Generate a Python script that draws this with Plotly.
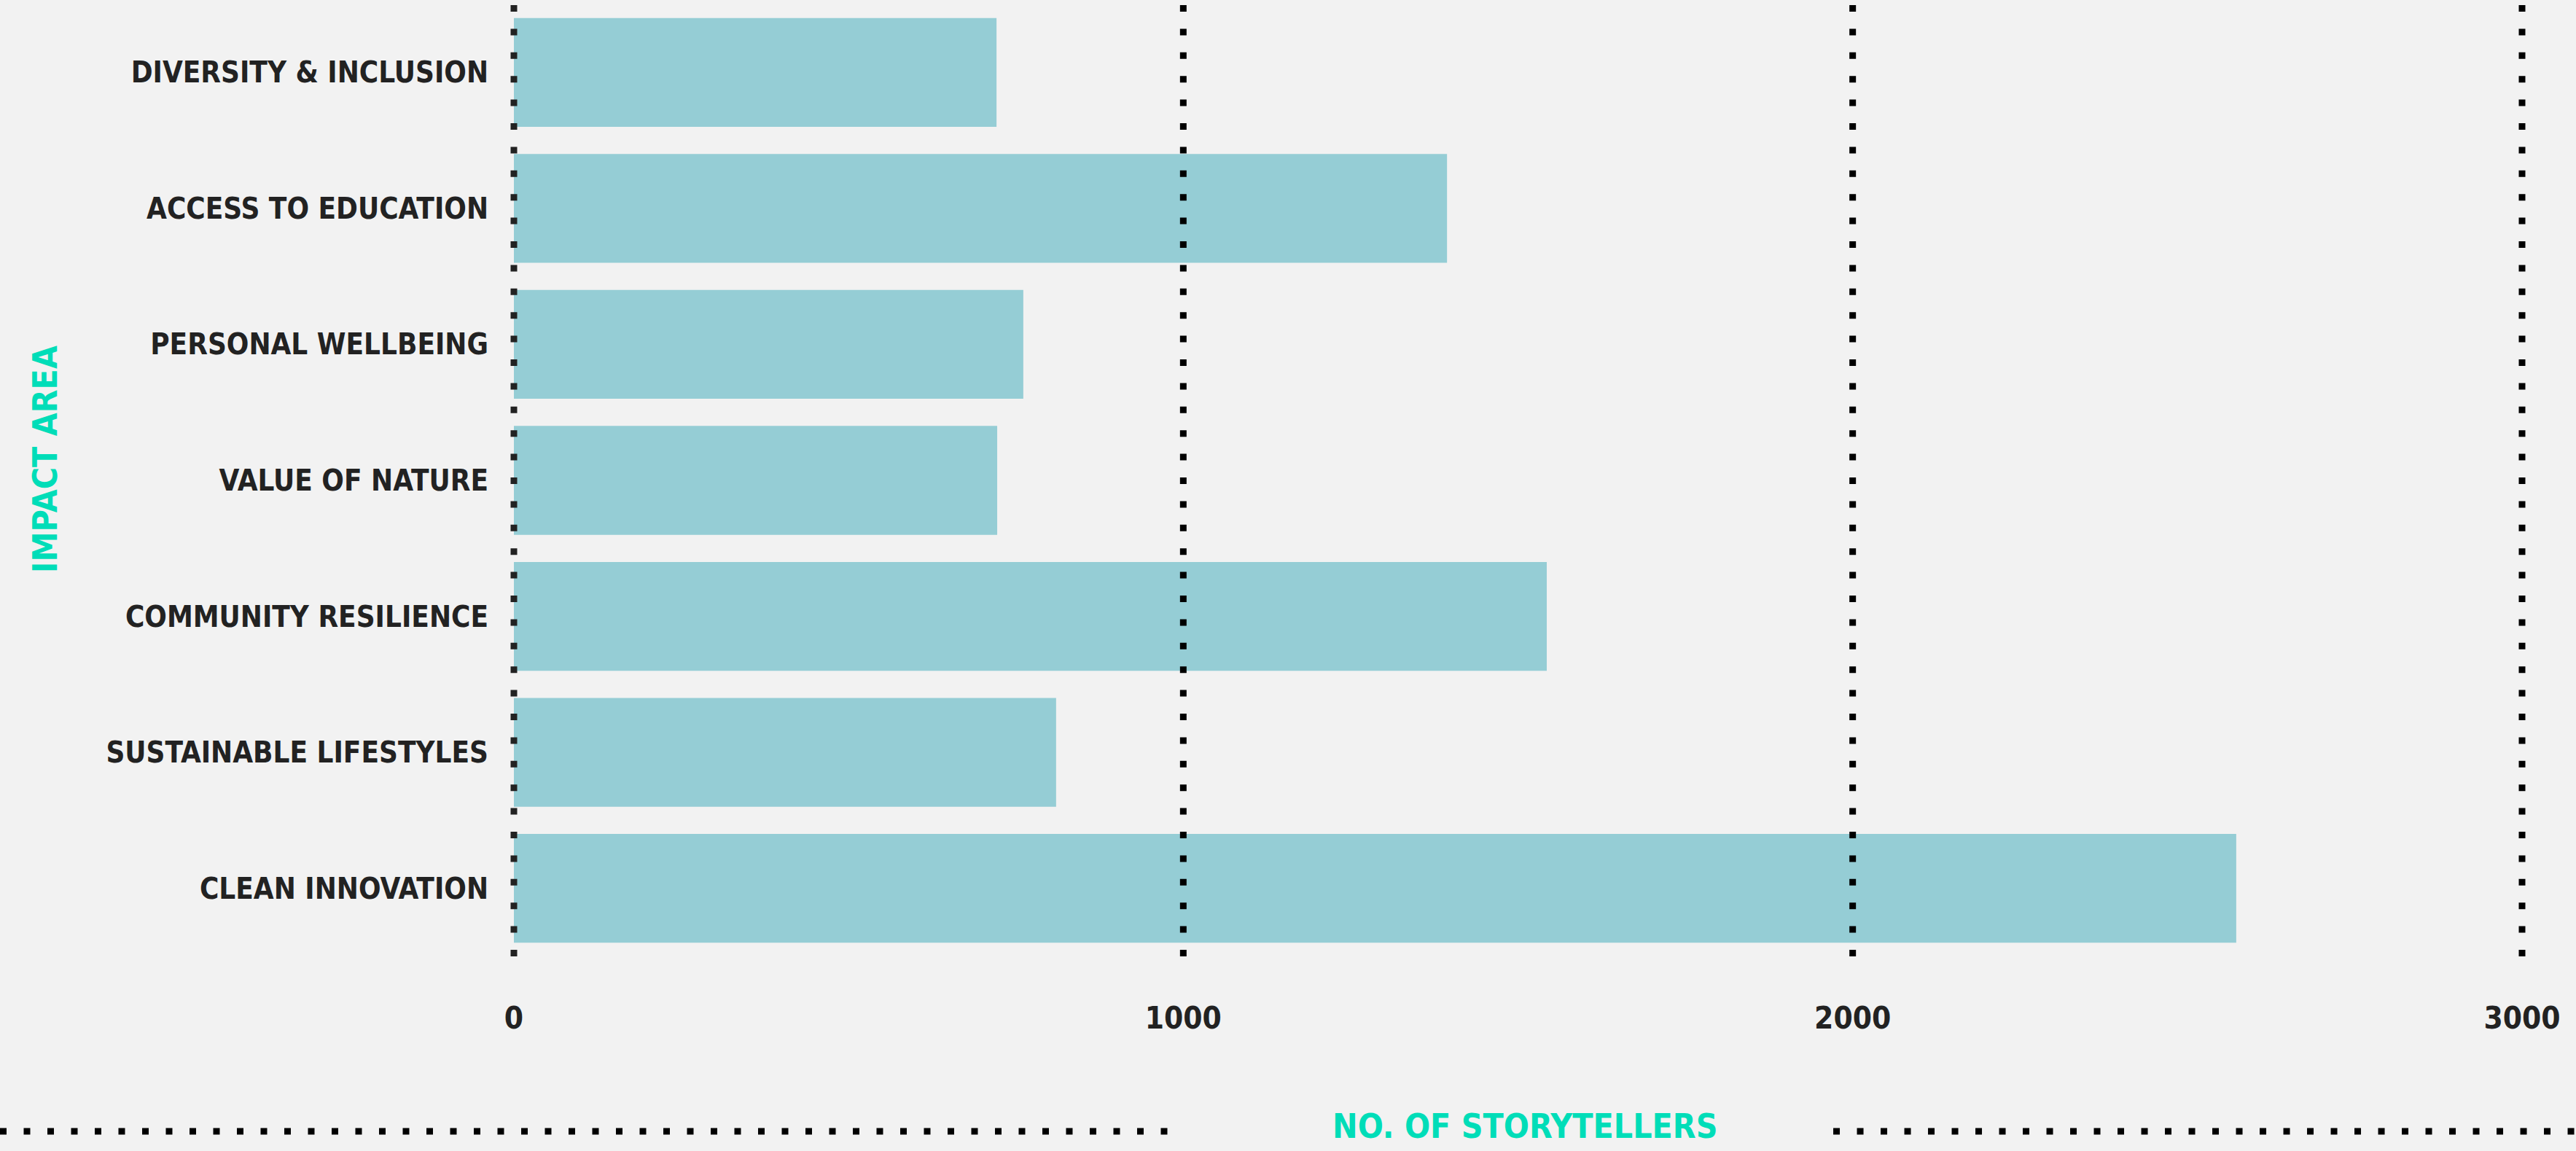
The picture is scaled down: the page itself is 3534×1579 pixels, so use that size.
import plotly.graph_objects as go

categories = [
    "DIVERSITY & INCLUSION",
    "ACCESS TO EDUCATION",
    "PERSONAL WELLBEING",
    "VALUE OF NATURE",
    "COMMUNITY RESILIENCE",
    "SUSTAINABLE LIFESTYLES",
    "CLEAN INNOVATION",
]
storytellers = [721, 1394, 761, 722, 1543, 810, 2573]
x_range = [0, 3000]
x_tick_vals = [0, 1000, 2000, 3000]
x_tick_text = ["0", "1000", "2000", "3000"]
x_title = "NO. OF STORYTELLERS"
y_title = "IMPACT AREA"

FONT = "DejaVu Sans Condensed, Liberation Sans Narrow, sans-serif"
BAR = "#95CDD5"
BG = "#F2F2F2"
TEXT = "#222222"
ACCENT = "#00DDB8"

fig = go.Figure(
    go.Bar(
        x=storytellers,
        y=categories,
        orientation="h",
        marker=dict(color=BAR, line=dict(width=0)),
        hoverinfo="x+y",
    )
)

shapes = []
span = x_range[1] - x_range[0]
for i, v in enumerate(x_tick_vals):
    xp = (v - x_range[0]) / span
    shapes.append(dict(
        type="line", xref="paper", yref="paper", x0=xp, x1=xp, y0=0, y1=1,
        line=dict(color="#222222" if i == 0 else "#000000", width=9, dash="9px,23.4px"),
        layer="above",
    ))
# decorative dotted rule either side of the x-axis title
for x0, x1 in [(-0.2559, 0.3318), (0.657, 1.027)]:
    shapes.append(dict(
        type="line", xref="paper", yref="paper", x0=x0, x1=x1, y0=-0.1838, y1=-0.1838,
        line=dict(color="#000000", width=9, dash="9px,23.5px"),
        layer="above",
    ))

y_tick_font = dict(family=FONT, size=40, color=TEXT, weight="bold")
x_tick_font = dict(family=FONT, size=42, color=TEXT, weight="bold")
title_font = dict(family=FONT, size=46, color=ACCENT, weight="bold")

fig.update_layout(
    width=3534,
    height=1579,
    margin=dict(l=705, r=74, t=6, b=267, pad=0),
    paper_bgcolor=BG,
    plot_bgcolor=BG,
    bargap=0.2,
    showlegend=False,
    shapes=shapes,
    font=dict(family=FONT, color=TEXT),
    xaxis=dict(
        range=x_range,
        tickvals=x_tick_vals,
        ticktext=x_tick_text,
        showgrid=False,
        zeroline=False,
        showline=False,
        ticks="",
        ticklabelstandoff=56,
        tickfont=x_tick_font,
        fixedrange=True,
        automargin=False,
    ),
    yaxis=dict(
        categoryorder="array",
        categoryarray=categories,
        autorange="reversed",
        showgrid=False,
        zeroline=False,
        showline=False,
        ticks="",
        ticklabelstandoff=34,
        tickfont=y_tick_font,
        fixedrange=True,
        automargin=False,
    ),
    annotations=[
        dict(
            text=x_title, xref="paper", yref="paper", x=0.5038, y=-0.1784,
            xanchor="center", yanchor="middle", showarrow=False,
            font=title_font,
        ),
        dict(
            text=y_title, xref="paper", yref="paper", x=-0.2334, y=0.5222,
            xanchor="center", yanchor="middle", showarrow=False, textangle=-90,
            font=title_font,
        ),
    ],
)

fig.write_html("out.html")
